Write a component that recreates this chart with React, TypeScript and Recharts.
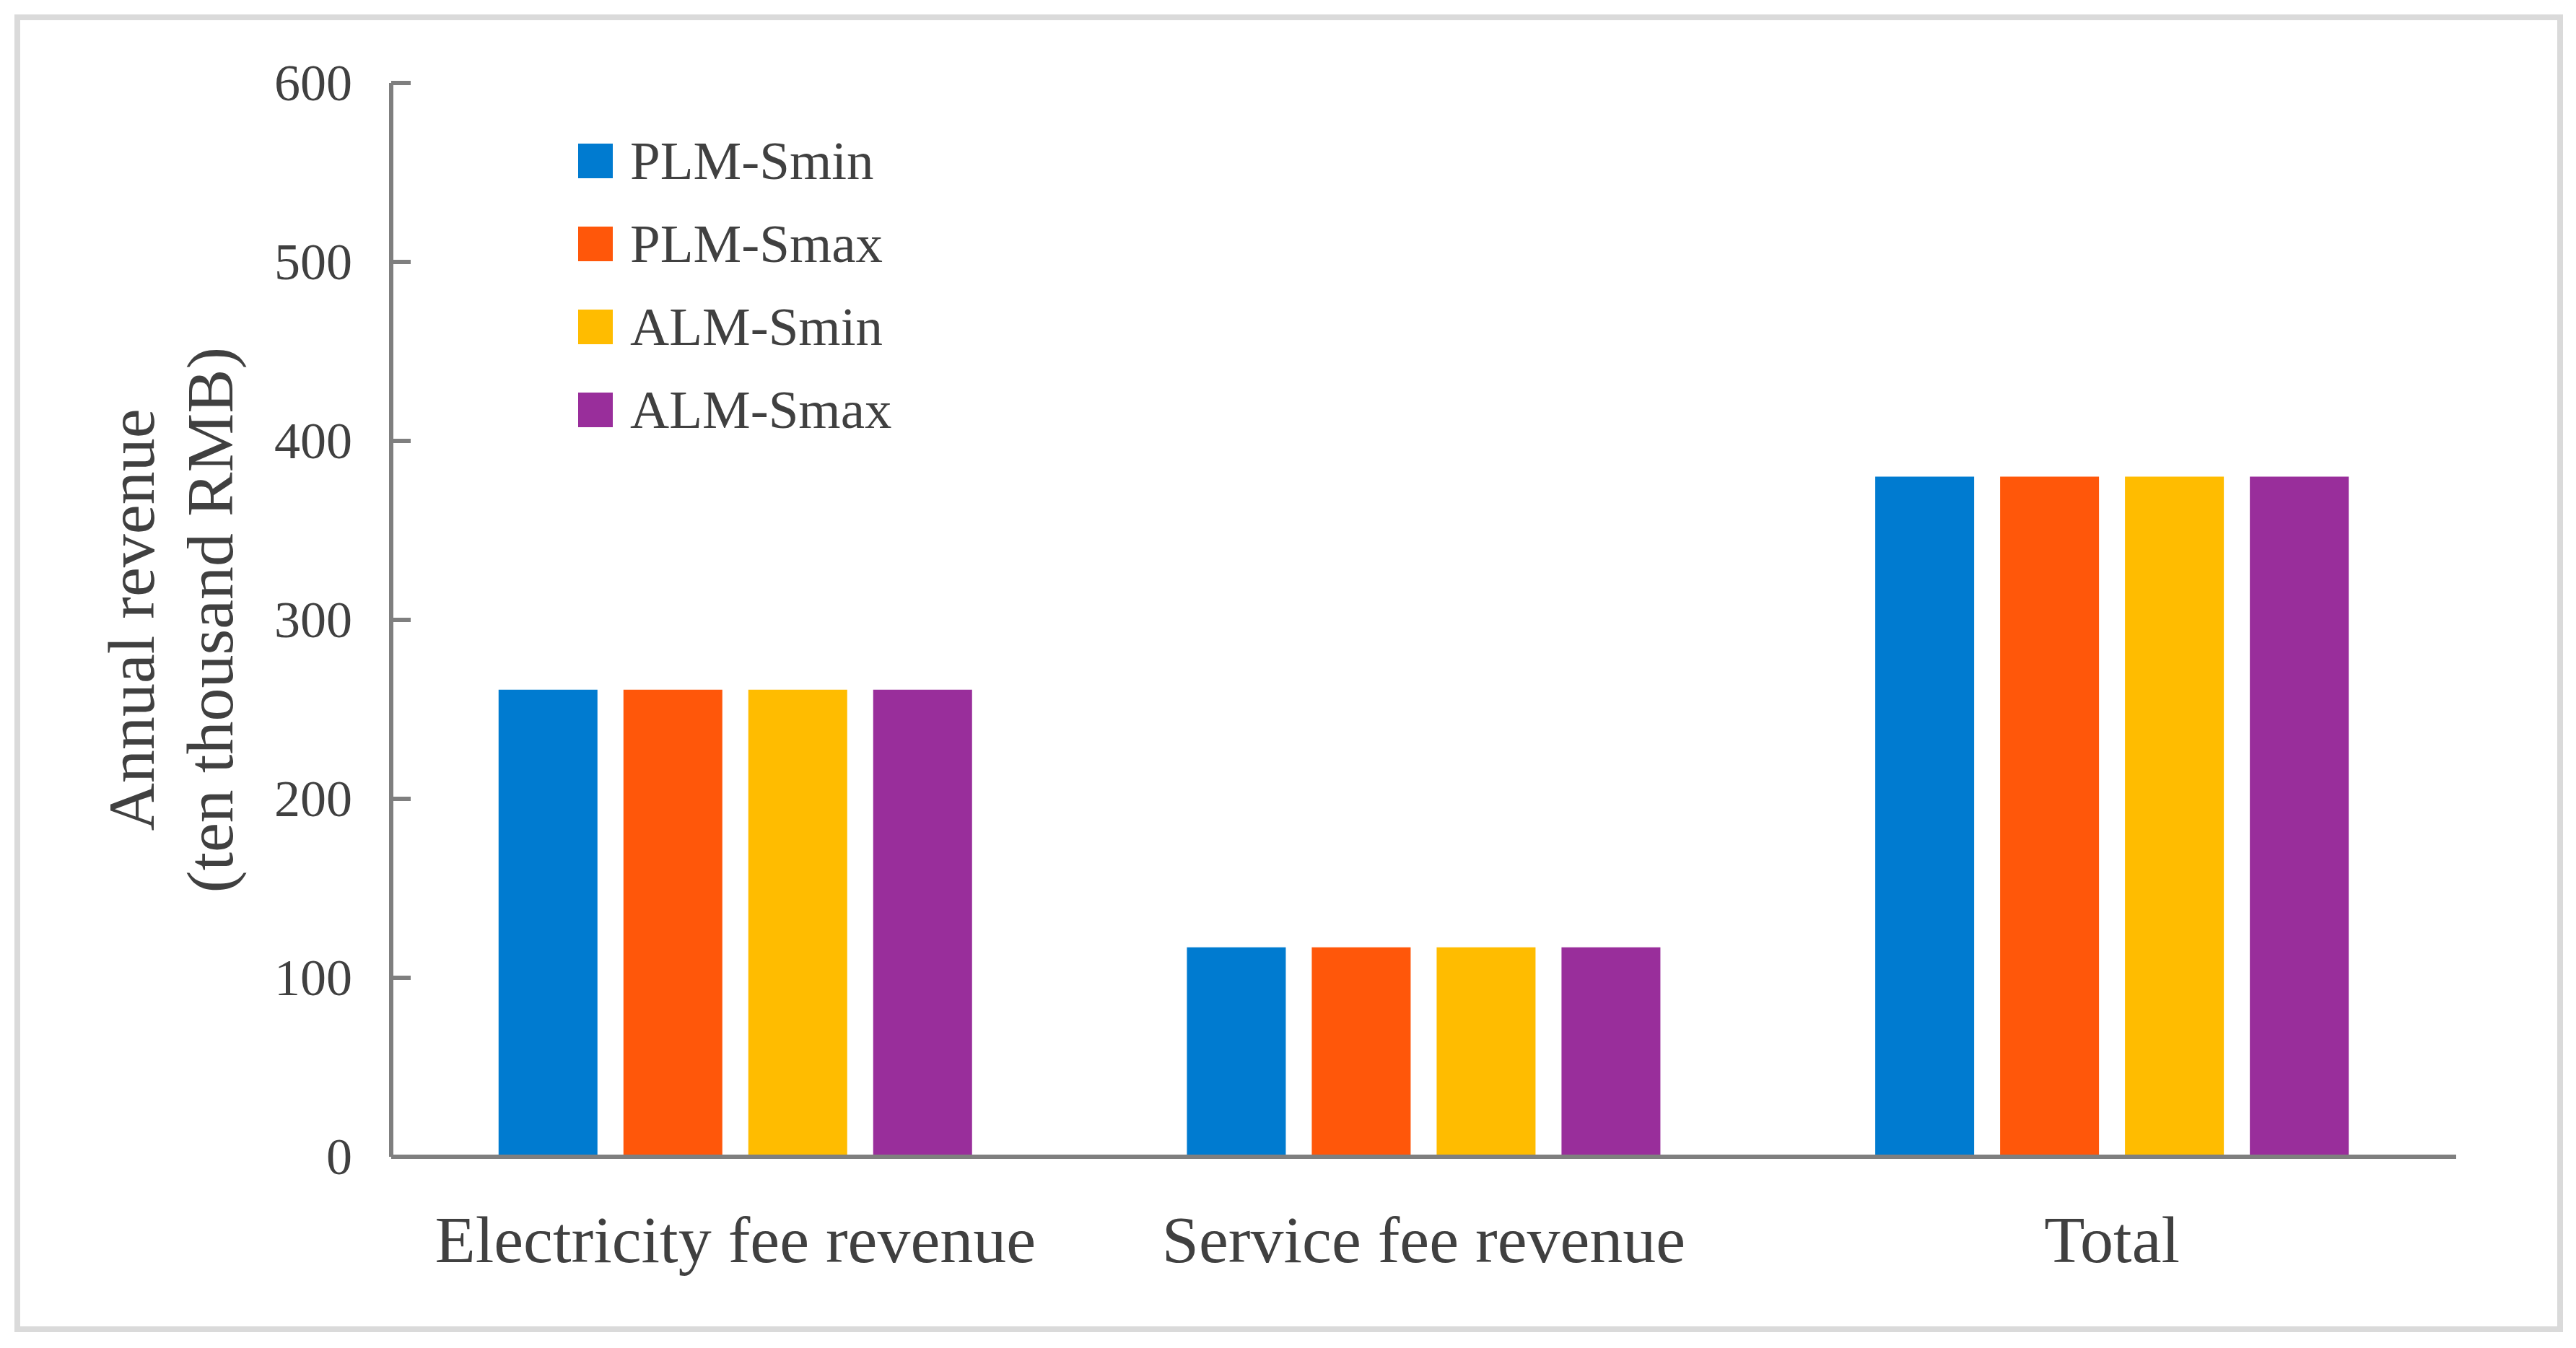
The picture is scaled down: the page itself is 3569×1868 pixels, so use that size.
import { BarChart, Bar, XAxis, YAxis, Legend, Label } from 'recharts';

const categories = ['Electricity fee revenue', 'Service fee revenue', 'Total'];
const plmSmin = [261, 117, 380];
const plmSmax = [261, 117, 380];
const almSmin = [261, 117, 380];
const almSmax = [261, 117, 380];
const yTicks = [0, 100, 200, 300, 400, 500, 600];

const SERIES = [
  { key: 'plmSmin', name: 'PLM-Smin', color: '#007BD0', values: plmSmin },
  { key: 'plmSmax', name: 'PLM-Smax', color: '#FF570A', values: plmSmax },
  { key: 'almSmin', name: 'ALM-Smin', color: '#FFBC00', values: almSmin },
  { key: 'almSmax', name: 'ALM-Smax', color: '#992E9B', values: almSmax },
];

const data = categories.map((name, i) => {
  const row: Record<string, string | number> = { name };
  SERIES.forEach(s => { row[s.key] = s.values[i]; });
  return row;
});

const FONT = '"Liberation Serif", "Times New Roman", serif';
const TEXT = '#404040';
const AXIS = '#7f7f7f';

const YTick = ({ x, y, payload }: any) => (
  <g>
    <line x1={x + 54} x2={x + 81} y1={y} y2={y} stroke={AXIS} strokeWidth={6} />
    <text x={x} y={y} dy="0.34em" textAnchor="end" fontSize={72} fontFamily={FONT} fill={TEXT}>
      {payload.value}
    </text>
  </g>
);

const XTick = ({ x, y, payload }: any) => (
  <text x={x} y={y} textAnchor="middle" fontSize={92} fontFamily={FONT} fill={TEXT}>
    {payload.value}
  </text>
);

const YTitle = ({ viewBox }: any) => {
  const cy = viewBox.y + viewBox.height / 2;
  return (
    <g fontSize={92} fontFamily={FONT} fill={TEXT}>
      <text x={213} y={cy} textAnchor="middle" transform={`rotate(-90, 213, ${cy})`}>
        Annual revenue
      </text>
      <text x={322} y={cy} textAnchor="middle" transform={`rotate(-90, 322, ${cy})`}>
        (ten thousand RMB)
      </text>
    </g>
  );
};

// keep the legend in series order, not alphabetical
const LegendBox = ({ payload }: any) => {
  const order = (v: string) => SERIES.findIndex(s => s.name === v);
  const items = [...(payload || [])].sort((a: any, b: any) => order(a.value) - order(b.value));
  return (
    <div style={{ fontFamily: FONT, color: TEXT, fontSize: 75 }}>
      {items.map((p: any) => (
        <div key={p.value} style={{ display: 'flex', alignItems: 'center', height: 115 }}>
          <span style={{ width: 48, height: 48, background: p.color, marginRight: 24, flexShrink: 0 }} />
          <span style={{ whiteSpace: 'nowrap' }}>{p.value}</span>
        </div>
      ))}
    </div>
  );
};

export default function App() {
  return (
    <div style={{ position: 'absolute', left: 0, top: 0, width: 3569, height: 1868, background: '#fff' }}>
      <div
        style={{
          position: 'absolute',
          left: 20,
          top: 20,
          width: 3531,
          height: 1826,
          boxSizing: 'border-box',
          border: '8px solid #dadada',
        }}
      />
      <div style={{ position: 'absolute', left: 0, top: 0 }}>
        <BarChart
          width={3569}
          height={1868}
          data={data}
          margin={{ top: 115, right: 166, bottom: 115, left: 0 }}
          barCategoryGap="15.6%"
          barGap={36}
        >
          <XAxis
            dataKey="name"
            height={150}
            stroke={AXIS}
            strokeWidth={6}
            tickLine={false}
            tickSize={0}
            tickMargin={146}
            tick={<XTick />}
            interval={0}
          />
          <YAxis
            width={542}
            domain={[0, 600]}
            ticks={yTicks}
            stroke={AXIS}
            strokeWidth={6}
            tickLine={false}
            tickSize={0}
            tickMargin={54}
            tick={<YTick />}
            interval={0}
          >
            <Label content={<YTitle />} />
          </YAxis>
          <Legend
            layout="vertical"
            align="center"
            verticalAlign="middle"
            wrapperStyle={{ left: 801, top: 165, width: 'auto' }}
            content={<LegendBox />}
          />
          {SERIES.map(s => (
            <Bar key={s.key} dataKey={s.key} name={s.name} fill={s.color} isAnimationActive={false} />
          ))}
        </BarChart>
      </div>
    </div>
  );
}
